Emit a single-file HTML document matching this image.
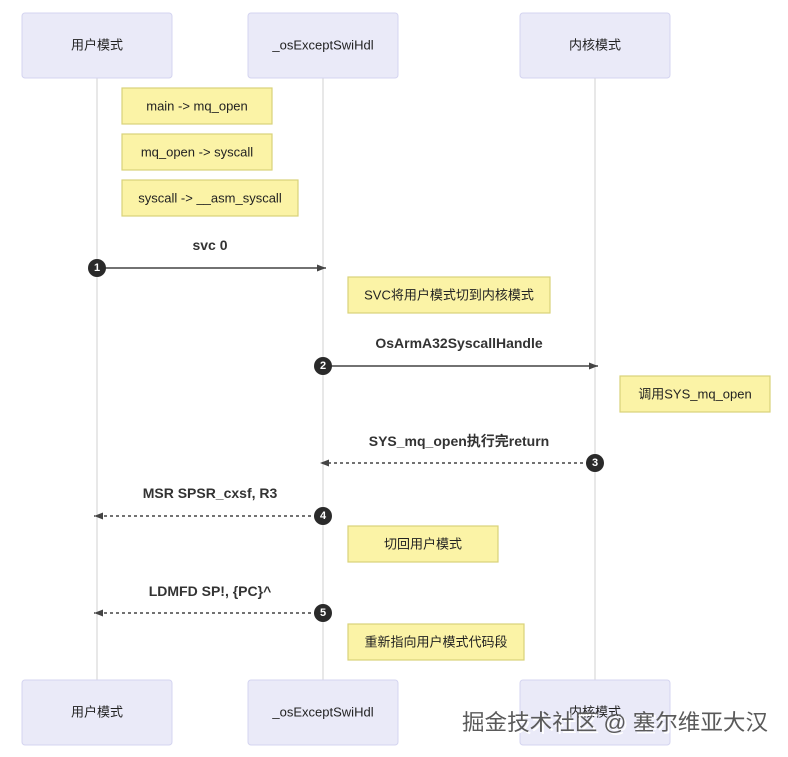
<!DOCTYPE html>
<html><head><meta charset="utf-8"><style>
html,body{margin:0;padding:0;background:#fff;}
svg{display:block;font-family:"Liberation Sans","Noto Sans CJK SC",sans-serif;}
.a{fill:#eaeaf8;stroke:#d4d4f0;stroke-width:1;}
.n{fill:#fbf3a6;stroke:#d9d27a;stroke-width:1.2;}
.t{font-size:13px;fill:#222;text-anchor:middle;dominant-baseline:middle;}
.m{font-size:14px;font-weight:bold;fill:#333;text-anchor:middle;}
.l{stroke:#e0e0e0;stroke-width:1.5;}
.s{stroke:#444;stroke-width:1.5;}
.d{stroke:#444;stroke-width:1.5;stroke-dasharray:3,3;}
.c{fill:#2a2a2a;}
.cn{font-size:11px;font-weight:bold;fill:#fff;text-anchor:middle;dominant-baseline:central;}
</style></head><body>
<svg width="788" height="757" viewBox="0 0 788 757">
<defs><marker id="ar" markerUnits="userSpaceOnUse" markerWidth="9" markerHeight="7" refX="9" refY="3.5" orient="auto"><path d="M0,0 L9,3.5 L0,7 z" fill="#444"/></marker></defs>
<line class="l" x1="97" y1="78" x2="97" y2="680"/>
<line class="l" x1="323" y1="78" x2="323" y2="680"/>
<line class="l" x1="595" y1="78" x2="595" y2="680"/>
<rect class="a" x="22" y="13" width="150" height="65" rx="3"/><text class="t" x="97" y="46">用户模式</text>
<rect class="a" x="248" y="13" width="150" height="65" rx="3"/><text class="t" x="323" y="46">_osExceptSwiHdl</text>
<rect class="a" x="520" y="13" width="150" height="65" rx="3"/><text class="t" x="595" y="46">内核模式</text>
<rect class="a" x="22" y="680" width="150" height="65" rx="3"/><text class="t" x="97" y="713">用户模式</text>
<rect class="a" x="248" y="680" width="150" height="65" rx="3"/><text class="t" x="323" y="713">_osExceptSwiHdl</text>
<rect class="a" x="520" y="680" width="150" height="65" rx="3"/><text class="t" x="595" y="713">内核模式</text>

<rect class="n" x="122" y="88" width="150" height="36"/><text class="t" x="197" y="107">main -&gt; mq_open</text>
<rect class="n" x="122" y="134" width="150" height="36"/><text class="t" x="197" y="153">mq_open -&gt; syscall</text>
<rect class="n" x="122" y="180" width="176" height="36"/><text class="t" x="210" y="199">syscall -&gt; __asm_syscall</text>

<text class="m" x="210" y="250">svc 0</text>
<line class="s" x1="97" y1="268" x2="326" y2="268" marker-end="url(#ar)"/>
<circle class="c" cx="97" cy="268" r="9"/><text class="cn" x="97" y="268">1</text>

<rect class="n" x="348" y="277" width="202" height="36"/><text class="t" x="449" y="296">SVC将用户模式切到内核模式</text>

<text class="m" x="459" y="348">OsArmA32SyscallHandle</text>
<line class="s" x1="323" y1="366" x2="598" y2="366" marker-end="url(#ar)"/>
<circle class="c" cx="323" cy="366" r="9"/><text class="cn" x="323" y="366">2</text>

<rect class="n" x="620" y="376" width="150" height="36"/><text class="t" x="695" y="395">调用SYS_mq_open</text>

<text class="m" x="459" y="446">SYS_mq_open执行完return</text>
<line class="d" x1="595" y1="463" x2="320" y2="463" marker-end="url(#ar)"/>
<circle class="c" cx="595" cy="463" r="9"/><text class="cn" x="595" y="463">3</text>

<text class="m" x="210" y="498">MSR SPSR_cxsf, R3</text>
<line class="d" x1="323" y1="516" x2="94" y2="516" marker-end="url(#ar)"/>
<circle class="c" cx="323" cy="516" r="9"/><text class="cn" x="323" y="516">4</text>

<rect class="n" x="348" y="526" width="150" height="36"/><text class="t" x="423" y="545">切回用户模式</text>

<text class="m" x="210" y="596">LDMFD SP!, {PC}^</text>
<line class="d" x1="323" y1="613" x2="94" y2="613" marker-end="url(#ar)"/>
<circle class="c" cx="323" cy="613" r="9"/><text class="cn" x="323" y="613">5</text>

<rect class="n" x="348" y="624" width="176" height="36"/><text class="t" x="436" y="643">重新指向用户模式代码段</text>

<text x="463" y="731" font-size="22" textLength="306" lengthAdjust="spacingAndGlyphs" fill="#fff" style="font-family:'Liberation Sans','Noto Sans CJK SC',sans-serif" transform="translate(1,1)">掘金技术社区 @ 塞尔维亚大汉</text>
<text x="462" y="730" font-size="22" textLength="306" lengthAdjust="spacingAndGlyphs" fill="#5a5a5a" style="font-family:'Liberation Sans','Noto Sans CJK SC',sans-serif">掘金技术社区 @ 塞尔维亚大汉</text>
</svg>
</body></html>
